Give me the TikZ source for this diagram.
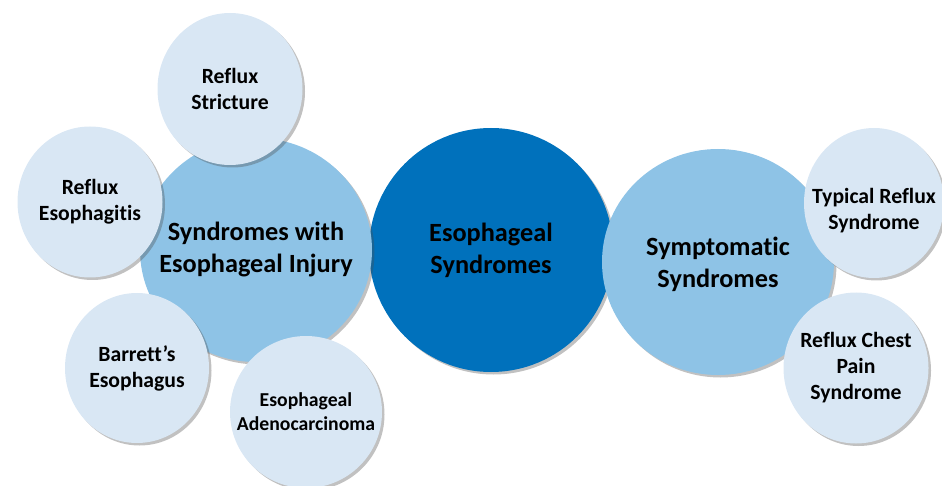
\documentclass[tikz,border=0pt]{standalone}
\usepackage{fontspec}
\setmainfont[Ligatures=NoCommon]{Carlito}
\usetikzlibrary{shapes.geometric,shadows}
\definecolor{darkblue}{RGB}{0,113,188}
\definecolor{midblue}{RGB}{142,195,230}
\definecolor{paleblue}{RGB}{217,231,244}
\tikzset{
  bub/.style={ellipse, inner sep=-30pt, align=center, font=\bfseries,
    drop shadow={shadow xshift=2.5pt, shadow yshift=-2.5pt, opacity=0.35, fill=black!70}},
  core/.style={bub, fill=darkblue, font=\fontsize{26.3}{32}\selectfont\bfseries},
  mid/.style={bub, fill=midblue, font=\fontsize{26.3}{32}\selectfont\bfseries},
  leaf/.style={bub, fill=paleblue, font=\fontsize{21.7}{26}\selectfont\bfseries},
}
\begin{document}
\begin{tikzpicture}[x=1pt,y=-1pt]
\useasboundingbox (0,0) rectangle (942,486);
\node[core, minimum width=244pt, minimum height=244pt] (core) at (491,250) {Esophageal\\Syndromes};
\node[mid, minimum width=232pt, minimum height=224pt] (inj) at (256,250) {Syndromes with\\Esophageal Injury};
\node[mid, minimum width=232pt, minimum height=226pt] (sym) at (718,262) {\raisebox{-3pt}[\height][\depth]{\begin{tabular}{@{}c@{}}Symptomatic\\Syndromes\end{tabular}}};
\node[leaf, minimum width=145pt, minimum height=152pt] (str) at (230,89) {Reflux\\Stricture};
\node[leaf, minimum width=145pt, minimum height=151pt] (eso) at (90,202) {Reflux\\Esophagitis};
\node[leaf, minimum width=144pt, minimum height=150pt] (bar) at (137,368) {Barrett’s\\Esophagus};
\node[leaf, minimum width=152pt, minimum height=152pt, font=\fontsize{19.7}{24}\selectfont\bfseries] (ade) at (306,412) {Esophageal\\Adenocarcinoma};
\node[leaf, minimum width=140pt, minimum height=150pt] (typ) at (874,203) {\raisebox{-8pt}[\height][\depth]{\begin{tabular}{@{}c@{}}Typical Reflux\\Syndrome\end{tabular}}};
\node[leaf, minimum width=145pt, minimum height=151pt] (chest) at (856,368) {Reflux Chest\\Pain\\Syndrome};
\end{tikzpicture}
\end{document}
